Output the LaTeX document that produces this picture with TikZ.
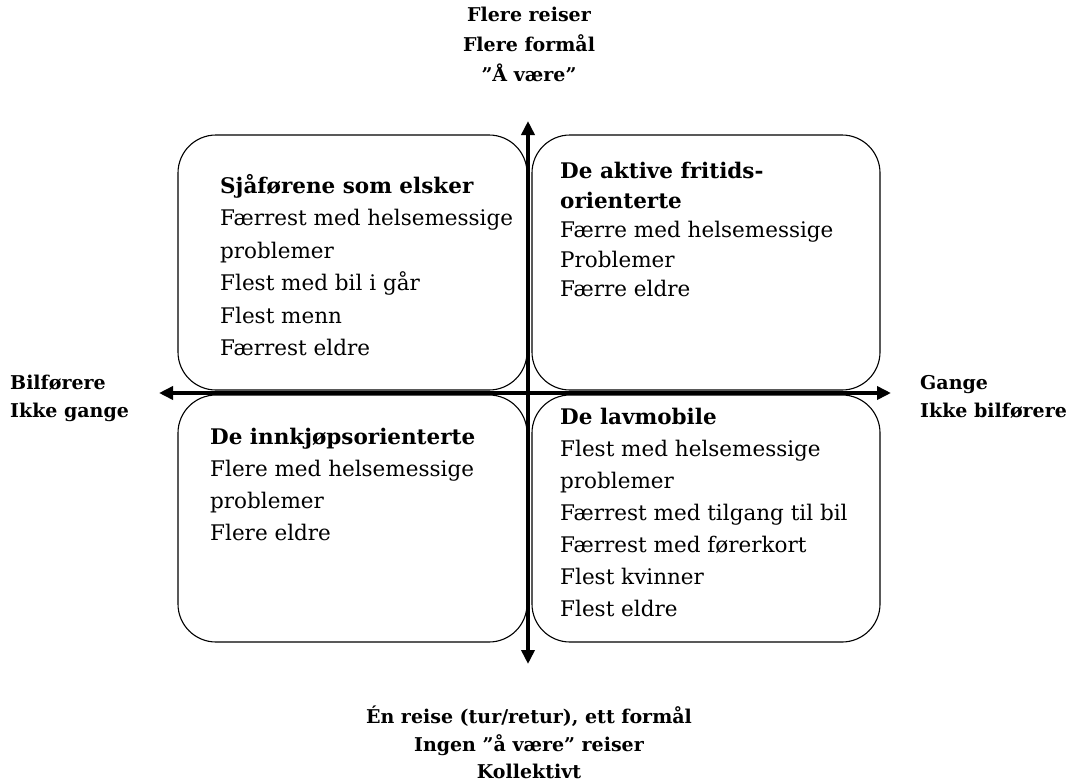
\documentclass[tikz,border=0pt]{standalone}
\usepackage{fontspec}
\setmainfont{DejaVu Serif}
\usetikzlibrary{arrows.meta}
\begin{document}
\begin{tikzpicture}[x=1pt,y=-1pt,
  quad/.style={draw=black, line width=1.1pt, rounded corners=38pt},
  axis/.style={line width=4pt, -{Triangle[length=14pt,width=13pt]}},
  boxtext/.style={anchor=north west, inner sep=0pt, align=left},
  lab/.style={inner sep=0pt, font=\bfseries\fontsize{19}{30}\selectfont},
]
\useasboundingbox (0,0) rectangle (1078,782);
% quadrant boxes
\draw[quad] (178,135) rectangle (527,390);
\draw[quad] (532,135) rectangle (880,390);
\draw[quad] (178,395) rectangle (527,642);
\draw[quad] (532,395) rectangle (880,642);
% axes
\coordinate (c) at (528,393);
\coordinate (top) at (528,121);
\coordinate (bot) at (528,664);
\coordinate (lft) at (159,393);
\coordinate (rgt) at (891,393);
\draw[axis] (c) -- (top);
\draw[axis] (c) -- (bot);
\draw[axis] (c) -- (lft);
\draw[axis] (c) -- (rgt);
% box texts
\node[boxtext, font=\fontsize{21.5}{32.5}\selectfont] (tl) at (220,174) {\textbf{Sjåførene som elsker}\\Færrest med helsemessige\\problemer\\Flest med bil i går\\Flest menn\\Færrest eldre};
\node[boxtext, font=\fontsize{21.5}{29.5}\selectfont] (tr) at (560,162) {\textbf{De aktive fritids-}\\\textbf{orienterte}\\Færre med helsemessige\\Problemer\\Færre eldre};
\node[boxtext, font=\fontsize{21.5}{32}\selectfont] (bl) at (210,428) {\textbf{De innkjøpsorienterte}\\Flere med helsemessige\\problemer\\Flere eldre};
\node[boxtext, font=\fontsize{21.5}{32}\selectfont] (br) at (560,408) {\textbf{De lavmobile}\\Flest med helsemessige\\problemer\\Færrest med tilgang til bil\\Færrest med førerkort\\Flest kvinner\\Flest eldre};
% axis labels
\node[lab, align=center, anchor=north] (toplab) at (529,7) {Flere reiser\\Flere formål\\”Å være”};
\node[lab, align=center, anchor=north, font=\bfseries\fontsize{19}{27.5}\selectfont] (botlab) at (529,706) {Én reise (tur/retur), ett formål\\Ingen ”å være” reiser\\Kollektivt};
\node[lab, align=left, anchor=north west, font=\bfseries\fontsize{19}{28}\selectfont] (lftlab) at (10,375) {Bilførere\\Ikke gange};
\node[lab, align=left, anchor=north west, font=\bfseries\fontsize{19}{28}\selectfont] (rgtlab) at (920,375) {Gange\\Ikke bilførere};
\end{tikzpicture}
\end{document}
